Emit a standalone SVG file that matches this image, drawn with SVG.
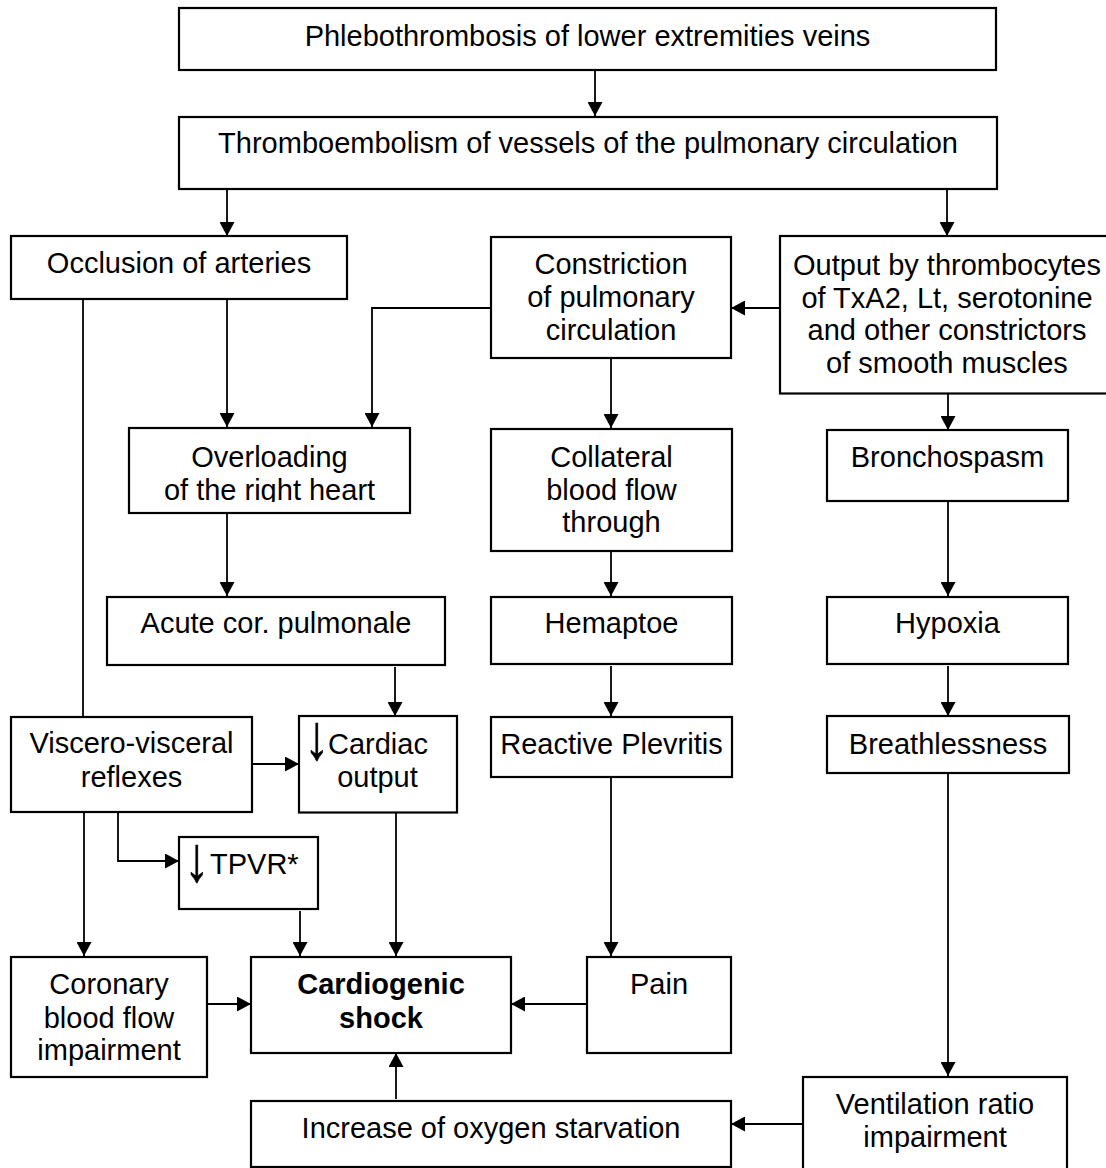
<svg xmlns="http://www.w3.org/2000/svg" width="1106" height="1168" viewBox="0 0 1106 1168">
<style>
.box{fill:#fff;stroke:#000;stroke-width:2.2}
.t{font-family:"Liberation Sans",Arial,sans-serif;font-size:29px;fill:#000;text-anchor:middle}
.b{font-weight:bold}
.c{fill:none;stroke:#000;stroke-width:1.8}
.gl{font-family:"Liberation Sans",Arial,sans-serif;font-size:29px;fill:#000}
.dn{font-family:"Liberation Sans",Arial,sans-serif;font-size:40px;fill:#000;stroke:#000;stroke-width:0.4;text-anchor:middle}
</style>
<defs>
<marker id="ah" viewBox="0 0 14 15" refX="14" refY="7.5" markerWidth="14" markerHeight="15" markerUnits="userSpaceOnUse" orient="auto">
<path d="M0,0 L14,7.5 L0,15 z" fill="#000"/>
</marker>
<clipPath id="clipOver"><rect x="129" y="428" width="281" height="74"/></clipPath>
</defs>
<rect width="1106" height="1168" fill="#fff"/>

<g id="connectors">
<path class="c" d="M595,70 V116" marker-end="url(#ah)"/>
<path class="c" d="M227,189 V236" marker-end="url(#ah)"/>
<path class="c" d="M947,189 V236" marker-end="url(#ah)"/>
<path class="c" d="M780,308 H731" marker-end="url(#ah)"/>
<path class="c" d="M491,308 H372 V427" marker-end="url(#ah)"/>
<path class="c" d="M227,299 V427" marker-end="url(#ah)"/>
<path class="c" d="M83,299 V717"/>
<path class="c" d="M611,358 V428" marker-end="url(#ah)"/>
<path class="c" d="M948,394 V430" marker-end="url(#ah)"/>
<path class="c" d="M227,514 V596" marker-end="url(#ah)"/>
<path class="c" d="M611,551 V596" marker-end="url(#ah)"/>
<path class="c" d="M948,501 V596" marker-end="url(#ah)"/>
<path class="c" d="M395,667 V716" marker-end="url(#ah)"/>
<path class="c" d="M611,666 V716" marker-end="url(#ah)"/>
<path class="c" d="M948,666 V716" marker-end="url(#ah)"/>
<path class="c" d="M252,764 H299" marker-end="url(#ah)"/>
<path class="c" d="M84,812 V956" marker-end="url(#ah)"/>
<path class="c" d="M118,812 V861 H179" marker-end="url(#ah)"/>
<path class="c" d="M300,911 V956" marker-end="url(#ah)"/>
<path class="c" d="M396,813 V956" marker-end="url(#ah)"/>
<path class="c" d="M611,777 V956" marker-end="url(#ah)"/>
<path class="c" d="M948,773 V1076" marker-end="url(#ah)"/>
<path class="c" d="M204,1004 H251" marker-end="url(#ah)"/>
<path class="c" d="M587,1004 H511" marker-end="url(#ah)"/>
<path class="c" d="M803,1124 H731" marker-end="url(#ah)"/>
<path class="c" d="M396,1099 V1053" marker-end="url(#ah)"/>
</g>

<g id="phlebothrombosis">
<rect class="box" x="179" y="8" width="817" height="62"/>
<text class="t" x="587.5" y="46">Phlebothrombosis of lower extremities veins</text>
</g>
<g id="thromboembolism">
<rect class="box" x="179" y="117" width="818" height="72"/>
<text class="t" x="588" y="153">Thromboembolism of vessels of the pulmonary circulation</text>
</g>
<g id="occlusion">
<rect class="box" x="11" y="236" width="336" height="63"/>
<text class="t" x="179" y="273">Occlusion of arteries</text>
</g>
<g id="constriction">
<rect class="box" x="491" y="237" width="240" height="121"/>
<text class="t" x="611" y="274">Constriction</text>
<text class="t" x="611" y="307">of pulmonary</text>
<text class="t" x="611" y="340">circulation</text>
</g>
<g id="output">
<rect class="box" x="780" y="236" width="330" height="157.5"/>
<text class="t" x="947" y="275">Output by thrombocytes</text>
<text class="t" x="947" y="307.5">of TxA2, Lt, serotonine</text>
<text class="t" x="947" y="340">and other constrictors</text>
<text class="t" x="947" y="372.5">of smooth muscles</text>
</g>
<g id="overloading">
<rect class="box" x="129" y="428" width="281" height="85"/>
<g clip-path="url(#clipOver)">
<text class="t" x="269.5" y="467">Overloading</text>
<text class="t" x="269.5" y="500">of the right heart</text>
</g>
</g>
<g id="collateral">
<rect class="box" x="491" y="429" width="241" height="122"/>
<text class="t" x="611.5" y="467">Collateral</text>
<text class="t" x="611.5" y="499.5">blood flow</text>
<text class="t" x="611.5" y="532">through</text>
</g>
<g id="bronchospasm">
<rect class="box" x="827" y="430" width="241" height="71"/>
<text class="t" x="947.5" y="467">Bronchospasm</text>
</g>
<g id="acute">
<rect class="box" x="107" y="597" width="338" height="68"/>
<text class="t" x="276" y="633">Acute cor. pulmonale</text>
</g>
<g id="hemaptoe">
<rect class="box" x="491" y="597" width="241" height="67"/>
<text class="t" x="611.5" y="633">Hemaptoe</text>
</g>
<g id="hypoxia">
<rect class="box" x="827" y="597" width="241" height="67"/>
<text class="t" x="947.5" y="633">Hypoxia</text>
</g>
<g id="viscero">
<rect class="box" x="11" y="717" width="241" height="95"/>
<text class="t" x="131.5" y="753">Viscero-visceral</text>
<text class="t" x="131.5" y="787">reflexes</text>
</g>
<g id="cardiac">
<rect class="box" x="299" y="716" width="158" height="96.5"/>
<text class="dn" transform="translate(317,759) scale(1.25,1.6)">↓</text>
<text class="gl" x="328" y="754">Cardiac</text>
<text class="t" x="377.5" y="787">output</text>
</g>
<g id="reactive">
<rect class="box" x="491" y="717" width="241" height="60"/>
<text class="t" x="611.5" y="754">Reactive Plevritis</text>
</g>
<g id="breathlessness">
<rect class="box" x="827" y="716" width="242" height="57"/>
<text class="t" x="948" y="754">Breathlessness</text>
</g>
<g id="tpvr">
<rect class="box" x="179" y="837" width="139" height="72"/>
<text class="dn" transform="translate(197,881) scale(1.25,1.6)">↓</text>
<text class="gl" x="210" y="874">TPVR*</text>
</g>
<g id="coronary">
<rect class="box" x="11" y="957" width="196" height="120"/>
<text class="t" x="109" y="994">Coronary</text>
<text class="t" x="109" y="1027.5">blood flow</text>
<text class="t" x="109" y="1060">impairment</text>
</g>
<g id="cardiogenic">
<rect class="box" x="251" y="957" width="260" height="96"/>
<text class="t b" x="381" y="994">Cardiogenic</text>
<text class="t b" x="381" y="1027.5">shock</text>
</g>
<g id="pain">
<rect class="box" x="587" y="957" width="144" height="96"/>
<text class="t" x="659" y="994">Pain</text>
</g>
<g id="increase">
<rect class="box" x="251" y="1101" width="480" height="66"/>
<text class="t" x="491" y="1138">Increase of oxygen starvation</text>
</g>
<g id="ventilation">
<rect class="box" x="803" y="1077" width="264" height="100"/>
<text class="t" x="935" y="1114">Ventilation ratio</text>
<text class="t" x="935" y="1147">impairment</text>
</g>
</svg>
